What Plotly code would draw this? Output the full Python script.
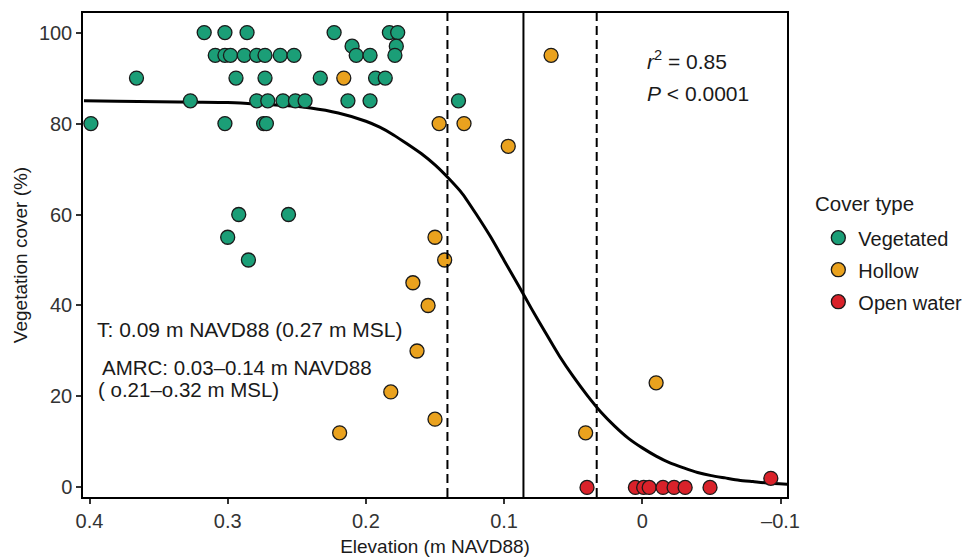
import plotly.graph_objects as go

# ---- data ----
veg_x = [0.317, 0.302, 0.286, 0.223, 0.183, 0.177,
         0.210, 0.178,
         0.309, 0.302, 0.298, 0.288, 0.279, 0.273, 0.262, 0.252, 0.207, 0.197, 0.179,
         0.366, 0.294, 0.273, 0.233, 0.193, 0.186,
         0.327, 0.279, 0.271, 0.260, 0.251, 0.244, 0.213, 0.197, 0.133,
         0.399, 0.302, 0.274, 0.272,
         0.292, 0.256, 0.300, 0.285]
veg_y = [100, 100, 100, 100, 100, 100,
         97, 97,
         95, 95, 95, 95, 95, 95, 95, 95, 95, 95, 95,
         90, 90, 90, 90, 90, 90,
         85, 85, 85, 85, 85, 85, 85, 85, 85,
         80, 80, 80, 80,
         60, 60, 55, 50]

hol_x = [0.216, 0.147, 0.129, 0.097, 0.066, 0.150, 0.143, 0.166, 0.155,
         0.163, 0.182, 0.150, 0.219, -0.010, 0.041]
hol_y = [90, 80, 80, 75, 95, 55, 50, 45, 40, 30, 21, 15, 12, 23, 12]

ow_x = [0.040, 0.005, -0.001, -0.005, -0.015, -0.023, -0.031, -0.049, -0.093]
ow_y = [0, 0, 0, 0, 0, 0, 0, 0, 2]

# fitted curve, values
fit_x = [0.404, 0.38, 0.35, 0.32, 0.30, 0.28, 0.26, 0.24, 0.22, 0.20, 0.19, 0.18,
         0.17, 0.16, 0.15, 0.14, 0.13, 0.12, 0.11, 0.10, 0.09, 0.08, 0.07, 0.06,
         0.05, 0.04, 0.03, 0.02, 0.01, 0.0, -0.01, -0.02, -0.03, -0.04, -0.05,
         -0.06, -0.07, -0.08, -0.09, -0.105]
fit_y = [85.0, 84.9, 84.8, 84.7, 84.6, 84.3, 84.0, 83.4, 82.3, 80.5, 79.2, 77.5,
         75.5, 73.4, 70.9, 67.9, 64.5, 60.0, 55.2, 49.9, 44.6, 39.2, 34.0, 28.9,
         24.4, 20.3, 16.6, 13.5, 10.8, 8.7, 6.9, 5.4, 4.3, 3.3, 2.6,
         2.1, 1.6, 1.3, 1.0, 0.7]

t_line = 0.086
amrc_low, amrc_high = 0.033, 0.141

x_ticks = [0.4, 0.3, 0.2, 0.1, 0.0, -0.1]
x_tick_text = ["0.4", "0.3", "0.2", "0.1", "0", "\u20130.1"]
y_ticks = [0, 20, 40, 60, 80, 100]

FONT = "Liberation Sans, Arial, Helvetica, sans-serif"

fig = go.Figure()

fig.add_trace(go.Scatter(x=fit_x, y=fit_y, mode="lines", line=dict(color="black", width=3, shape="spline", smoothing=0.6),
                         showlegend=False, hoverinfo="skip"))

mk_line = dict(color="#1a1a1a", width=1.3)
for name, xs, ys, col in [("Vegetated", veg_x, veg_y, "#1B9E77"),
                          ("Hollow", hol_x, hol_y, "#EAA21E"),
                          ("Open water", ow_x, ow_y, "#D9222A")]:
    fig.add_trace(go.Scatter(x=xs, y=ys, mode="markers", name=name, legendgroup=name,
                             marker=dict(size=14, color=col, line=mk_line)))

for xv, dash in [(amrc_high, "9px,5px"), (t_line, "solid"), (amrc_low, "9px,5px")]:
    fig.add_shape(type="line", x0=xv, x1=xv, y0=0, y1=1, xref="x", yref="paper",
                  line=dict(color="black", width=2, dash=dash))

ann = dict(showarrow=False, xref="paper", yref="paper", xanchor="left", yanchor="middle",
           font=dict(family=FONT, size=21, color="#1a1a1a"))
ann2 = dict(ann, font=dict(family=FONT, size=20.5, color="#1a1a1a"))
fig.add_annotation(text="T: 0.09 m NAVD88 (0.27 m MSL)", x=0.0167, y=0.347, **ann)
fig.add_annotation(text="AMRC: 0.03\u20130.14 m NAVD88", x=0.0236, y=0.268, **ann2)
fig.add_annotation(text="( o.21\u2013o.32 m MSL)", x=0.019, y=0.222, **ann2)
fig.add_annotation(text="<i>r</i><sup>2</sup> = 0.85", x=0.798, y=0.903, **ann)
fig.add_annotation(text="<i>P</i> &lt; 0.0001", x=0.798, y=0.833, **ann)
# legend title
fig.add_annotation(text="Cover type", x=1.037, y=0.607, **ann2)

axis_common = dict(showline=True, linecolor="black", linewidth=1.5, mirror=True,
                   ticks="outside", ticklen=5, tickwidth=1.5, tickcolor="#333",
                   showgrid=False, zeroline=False, automargin=False,
                   tickfont=dict(family=FONT, size=20, color="#333"))

fig.update_xaxes(range=[0.4047, -0.1047], tickvals=x_ticks, ticktext=x_tick_text,
                 title=dict(text="Elevation (m NAVD88)", font=dict(family=FONT, size=19, color="#1a1a1a"), standoff=10),
                 **axis_common)
fig.update_yaxes(range=[-2.1, 104.3], tickvals=y_ticks,
                 title=dict(text="Vegetation cover (%)", font=dict(family=FONT, size=19, color="#1a1a1a"), standoff=6),
                 **axis_common)

fig.update_layout(
    width=979, height=557,
    margin=dict(l=83, r=177, t=13, b=60),
    plot_bgcolor="white", paper_bgcolor="white",
    font=dict(family=FONT, size=20, color="#1a1a1a"),
    legend=dict(x=1.0445, y=0.576, xanchor="left", yanchor="top",
                font=dict(family=FONT, size=20), tracegroupgap=3, itemwidth=30),
)

# remove the default 8px page margin so the figure fills the window exactly
fig.write_html("out.html", config={"displayModeBar": False},
               post_script="document.body.style.margin='0px';document.body.style.overflow='hidden';")
